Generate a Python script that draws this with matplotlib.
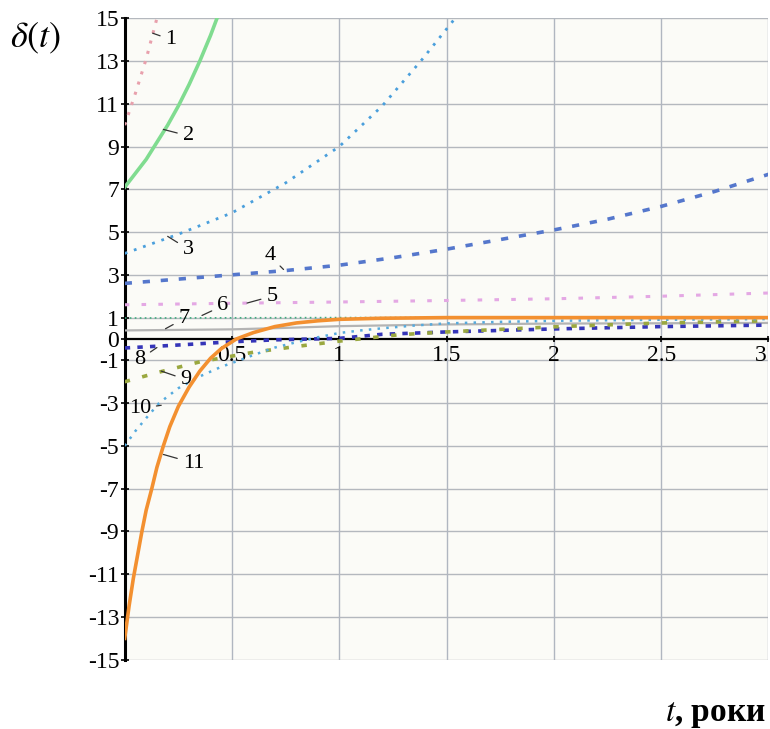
# delta(t) curves, t in years
import matplotlib
matplotlib.use("Agg")
import matplotlib.pyplot as plt

plt.rcParams['font.family'] = ['Liberation Serif', 'DejaVu Serif']
plt.rcParams['mathtext.fontset'] = 'stix'
plt.rcParams['axes.unicode_minus'] = False

# Curve data (t, delta)
t1 = [0, 0.05, 0.1, 0.15]
d1 = [10, 11.5, 13.1, 15]
t2 = [0, 0.05, 0.1, 0.15, 0.2, 0.25, 0.3, 0.35, 0.4, 0.43]
d2 = [7.1, 7.75, 8.4, 9.2, 10.0, 10.9, 11.9, 13.0, 14.2, 15]
t3 = [0, 0.25, 0.5, 0.75, 1.0, 1.2, 1.38, 1.54]
d3 = [4.0, 4.9, 5.9, 7.3, 9, 10.9, 13, 15]
t4 = [0, 0.25, 0.5, 0.75, 1, 1.25, 1.5, 1.75, 2, 2.25, 2.5, 2.75, 3]
d4 = [2.6, 2.8, 3.0, 3.2, 3.45, 3.8, 4.2, 4.65, 5.1, 5.6, 6.2, 6.9, 7.7]
t5 = [0, 0.5, 1, 1.5, 2, 2.5, 3]
d5 = [1.6, 1.67, 1.73, 1.8, 1.88, 2.0, 2.15]
t6 = [0, 1, 2, 3]
d6 = [0.98, 1.0, 1.01, 1.02]
t7 = [0, 0.5, 0.75, 1, 1.5, 2, 3]
d7 = [0.4, 0.45, 0.52, 0.6, 0.68, 0.72, 0.75]
t8 = [0, 0.22, 0.5, 0.7, 1.0, 1.2, 1.5, 2, 2.5, 3]
d8 = [-0.42, -0.3, -0.13, -0.04, 0.03, 0.22, 0.33, 0.47, 0.58, 0.65]
t9 = [0, 0.16, 0.35, 0.6, 0.8, 1.0, 1.28, 1.5, 2, 2.5, 3]
d9 = [-2, -1.55, -1.07, -0.62, -0.35, -0.1, 0.2, 0.33, 0.57, 0.75, 0.85]
t10 = [0, 0.05, 0.1, 0.16, 0.25, 0.35, 0.45, 0.52, 0.6, 0.7, 0.8, 0.9, 1.0, 1.1,
       1.2, 1.35, 1.5, 1.75, 2, 2.5, 3]
d10 = [-5, -4.3, -3.7, -3.0, -2.3, -1.75, -1.3, -1.05, -0.75, -0.4, -0.15, 0.08, 0.28, 0.4,
       0.5, 0.63, 0.73, 0.8, 0.85, 0.9, 0.93]
t11 = [0, 0.02, 0.04, 0.06, 0.08, 0.1, 0.126, 0.15, 0.18, 0.21, 0.25, 0.3, 0.35, 0.4,
       0.45, 0.52, 0.6, 0.7, 0.8, 0.9, 1.0, 1.2, 1.5, 2, 2.5, 3]
d11 = [-14, -12.5, -11.2, -10.1, -9, -8.0, -7, -6.0, -5, -4.1, -3.15, -2.25, -1.5, -0.9,
       -0.45, 0, 0.3, 0.58, 0.75, 0.85, 0.92, 0.97, 1, 1, 1, 1]

curve_t = [t1, t2, t3, t4, t5, t6, t7, t8, t9, t10, t11]
curve_d = [d1, d2, d3, d4, d5, d6, d7, d8, d9, d10, d11]
curve_names = ['1', '2', '3', '4', '5', '6', '7', '8', '9', '10', '11']

xticks = [0.5, 1, 1.5, 2, 2.5, 3]
xlabels = ['0.5', '1', '1.5', '2', '2.5', '3']
yticks = [-15, -13, -11, -9, -7, -5, -3, -1, 0, 1, 3, 5, 7, 9, 11, 13, 15]

# styles: colour, linestyle, width
styles = [
    ('#e8a0ac', (0, (1, 2.5)), 2.2),
    ('#80dc90', '-', 2.6),
    ('#4a9fdc', (0, (1, 2.5)), 2.0),
    ('#5577cc', (0, (2, 3)), 2.6),
    ('#e4a8e4', (0, (1.5, 4)), 2.2),
    ('#3fae80', (0, (1, 2)), 1.2),
    ('#b4b4b4', '-', 1.6),
    ('#3535b8', (0, (1.5, 2)), 2.6),
    ('#9aa840', (0, (1.5, 3.5)), 2.6),
    ('#55aadd', (0, (1, 2.5)), 1.8),
    ('#f39030', '-', 2.6),
]

# label text positions and leader ends (data coords)
label_xy = [(0.19, 14.0), (0.27, 9.5), (0.27, 4.2), (0.65, 3.9), (0.66, 2.0),
            (0.43, 1.55), (0.25, 0.95), (0.07, -0.95), (0.26, -1.9), (0.07, -3.25),
            (0.27, -5.8)]
leader_xy = [(0.13, 14.3), (0.18, 9.8), (0.2, 4.8), (0.74, 3.25), (0.57, 1.68),
             (0.36, 1.1), (0.19, 0.48), (0.15, -0.4), (0.17, -1.5), (0.17, -3.1),
             (0.18, -5.4)]
label_ha = ['left', 'left', 'left', 'left', 'left', 'left', 'left', 'center', 'left', 'center', 'left']

fig = plt.figure(figsize=(7.7, 7.29), dpi=100)
ax = fig.add_axes([0.162, 0.095, 0.836, 0.88])
ax.set_facecolor('#fbfbf7')

for tt, dd, (c, ls, lw) in zip(curve_t, curve_d, styles):
    ax.plot(tt, dd, color=c, linestyle=ls, linewidth=lw, zorder=3)

for name, (lx, ly), (px, py), ha in zip(curve_names, label_xy, leader_xy, label_ha):
    ax.annotate(name, xy=(px, py), xytext=(lx, ly), fontsize=16, ha=ha, va='center',
                arrowprops=dict(arrowstyle='-', color='#333333', lw=0.9,
                                shrinkA=2, shrinkB=0), zorder=5)

ax.set_xlim(0, 3)
ax.set_ylim(-15, 15)
ax.set_xticks(xticks)
# the last label is drawn right-aligned below so it stays inside the figure
ax.set_xticklabels(xlabels[:-1] + [''])
ax.annotate(xlabels[-1], xy=(xticks[-1], 0), xytext=(-1, -4.5),
            textcoords='offset points', ha='right', va='top', fontsize=17,
            annotation_clip=False)
ax.set_yticks(yticks)
ax.tick_params(axis='both', labelsize=17, width=1.2)
ax.tick_params(axis='y', pad=1, length=6, direction='inout')
ax.tick_params(axis='x', pad=2, length=5, direction='inout')

# grid at odd y values and every half year
for y in yticks:
    if y != 0:
        ax.axhline(y, color='#b4b8be', lw=1.0, zorder=1)
for x in xticks:
    ax.axvline(x, color='#b0b6c0', lw=1.0, zorder=1)

ax.spines['bottom'].set_position(('data', 0))
ax.spines['bottom'].set_linewidth(1.6)
ax.spines['left'].set_linewidth(2.2)
ax.spines['top'].set_visible(False)
ax.spines['right'].set_visible(False)

fig.text(0.013, 0.947, r'$\delta(t)$', fontsize=26, ha='left', va='center')
fig.text(0.995, 0.02, r'$t$, роки', fontsize=24, ha='right', va='center',
         fontweight='bold')

fig.savefig('out.png', dpi=100)
